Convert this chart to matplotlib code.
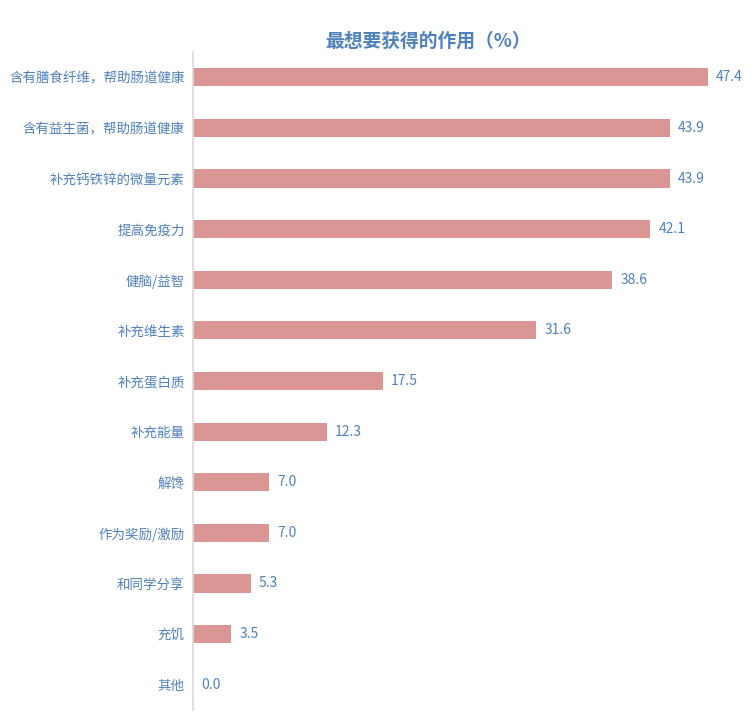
import matplotlib
matplotlib.use("Agg")
import matplotlib.pyplot as plt

plt.rcParams['font.family'] = ['Noto Sans CJK SC', 'DejaVu Sans']

categories = ["含有膳食纤维，帮助肠道健康", "含有益生菌，帮助肠道健康", "补充钙铁锌的微量元素",
              "提高免疫力", "健脑/益智", "补充维生素", "补充蛋白质", "补充能量", "解馋",
              "作为奖励/激励", "和同学分享", "充饥", "其他"]
values = [47.4, 43.9, 43.9, 42.1, 38.6, 31.6, 17.5, 12.3, 7.0, 7.0, 5.3, 3.5, 0.0]

bar_color = "#D99694"
text_color = "#4F81BD"

fig = plt.figure(figsize=(7.52, 7.25), dpi=100)
ax = fig.add_axes([193/752, 15/725, (736-193)/752, (710-52)/725])
y = list(range(len(categories)))
ax.barh(y, values, height=0.36, color=bar_color)
ax.set_ylim(len(categories)-0.5, -0.5)
ax.set_xlim(0, 50)
ax.set_yticks(y)
ax.set_yticklabels(categories, fontsize=9.7, color=text_color)
ax.tick_params(axis='y', length=0, pad=6)
ax.set_xticks([])
for s in ['top', 'right', 'bottom']:
    ax.spines[s].set_visible(False)
ax.spines['left'].set_color('#D9D9D9')
ax.spines['left'].set_linewidth(1.2)
for yi, v in zip(y, values):
    ax.text(v + 0.75, yi, f"{v:.1f}", va='center', ha='left', fontsize=10, color=text_color)

fig.text(428/752, 1 - 41/725, "最想要获得的作用（%）", ha='center', va='center',
         fontsize=13.5, fontweight='bold', color=text_color)
fig.savefig("out.png", dpi=100)
